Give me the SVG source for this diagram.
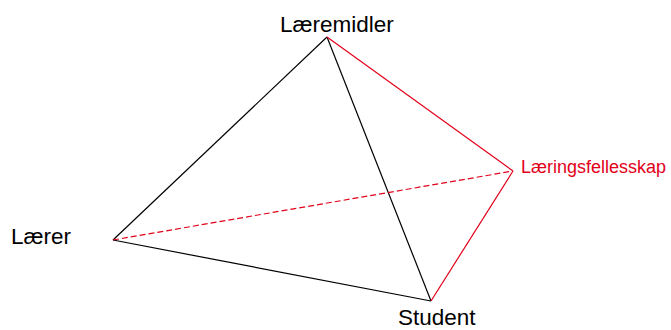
<svg xmlns="http://www.w3.org/2000/svg" width="671" height="330" viewBox="0 0 671 330">
<style>
.lbl{font-family:"Liberation Sans",Arial,sans-serif;font-size:22.5px;fill:#000}
.red{font-family:"Liberation Sans",Arial,sans-serif;font-size:18px;fill:#e2001a}
.k{stroke:#000;stroke-width:1.2;fill:none}
.r{stroke:#e2001a;stroke-width:1.2;fill:none}
.d{stroke-dasharray:6 3}
</style>
<rect width="671" height="330" fill="#fff"/>
<g id="connectors">
<line class="k" x1="327" y1="37" x2="113" y2="240"/>
<line class="k" x1="327" y1="37" x2="431" y2="301"/>
<line class="k" x1="113" y1="240" x2="431" y2="301"/>
<line class="r" x1="327" y1="37" x2="513" y2="171"/>
<line class="r" x1="513" y1="171" x2="431" y2="301"/>
<line class="r d" x1="113" y1="240" x2="513" y2="171"/>
</g>
<g id="laeremidler"><text class="lbl" x="280" y="32">Læremidler</text></g>
<g id="laerer"><text class="lbl" x="11" y="244">Lærer</text></g>
<g id="student"><text class="lbl" x="398" y="325">Student</text></g>
<g id="laeringsfellesskap"><text class="red" x="521" y="173">Læringsfellesskap</text></g>
</svg>
